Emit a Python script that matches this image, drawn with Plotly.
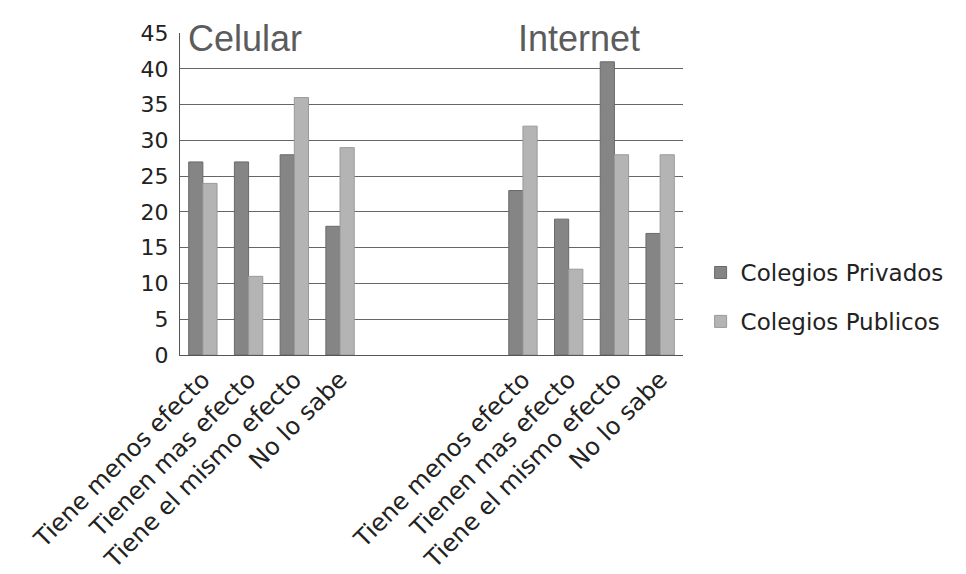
import plotly.graph_objects as go

labels = ["Tiene menos efecto", "Tienen mas efecto", "Tiene el mismo efecto", "No lo sabe"]
groups = ["Celular", "Internet"]
privados_celular = [27, 27, 28, 18]
publicos_celular = [24, 11, 36, 29]
privados_internet = [23, 19, 41, 17]
publicos_internet = [32, 12, 28, 28]
y_ticks = [0, 5, 10, 15, 20, 25, 30, 35, 40, 45]

# slot layout: 4 categories, 3 empty slots, 4 categories
gap_slots = 3
pos_cel = list(range(len(labels)))
pos_int = [len(labels) + gap_slots + i for i in range(len(labels))]
positions = pos_cel + pos_int
tick_text = labels + labels

col_priv = "#858585"
col_pub = "#b4b4b4"
font_fam = "DejaVu Sans, Open Sans, Arial"

fig = go.Figure()
fig.add_trace(go.Bar(x=positions, y=privados_celular + privados_internet,
                     name="Colegios Privados", marker=dict(color=col_priv, line=dict(color="#6a6a6a", width=1)),
                     legendgroup="a"))
fig.add_trace(go.Bar(x=positions, y=publicos_celular + publicos_internet,
                     name="Colegios Publicos", marker=dict(color=col_pub, line=dict(color="#999999", width=1)),
                     legendgroup="b"))

fig.add_annotation(x=0.012, y=1, xref="paper", yref="paper", text=groups[0],
                   showarrow=False, xanchor="left", yanchor="top", yshift=17,
                   font=dict(family="Liberation Sans, Arial", size=36, color="#5c5c5c"))
fig.add_annotation(x=0.668, y=1, xref="paper", yref="paper", text=groups[1],
                   showarrow=False, xanchor="left", yanchor="top", yshift=17,
                   font=dict(family="Liberation Sans, Arial", size=36, color="#5c5c5c"))

fig.update_layout(
    width=966, height=574,
    margin=dict(l=172, r=291, t=25, b=227),
    paper_bgcolor="white", plot_bgcolor="white",
    barmode="group", bargap=0.38, bargroupgap=0.0,
    font=dict(family=font_fam, color="#222222"),
    legend=dict(x=1.035, y=0.18, xanchor="left", yanchor="middle",
                font=dict(size=23, family=font_fam, color="#222222"),
                tracegroupgap=16, traceorder="grouped", itemwidth=30),
    showlegend=True,
)
fig.update_xaxes(range=[-0.5, len(positions) + gap_slots - 0.5],
                 tickvals=positions, ticktext=tick_text, tickangle=-45,
                 tickfont=dict(size=24, family=font_fam, color="#222222"),
                 showgrid=False, showline=True, linecolor="#555555", linewidth=1,
                 ticks="", zeroline=False, automargin=False)
fig.update_yaxes(range=[0, 45.03], tickvals=y_ticks, showgrid=True, gridcolor="#666666", gridwidth=1,
                 tickfont=dict(size=22, family=font_fam, color="#222222"),
                 showline=True, linecolor="#555555", linewidth=1, zeroline=False, ticks="",
                 ticklabelstandoff=6, automargin=False)

fig.write_html("out.html")
